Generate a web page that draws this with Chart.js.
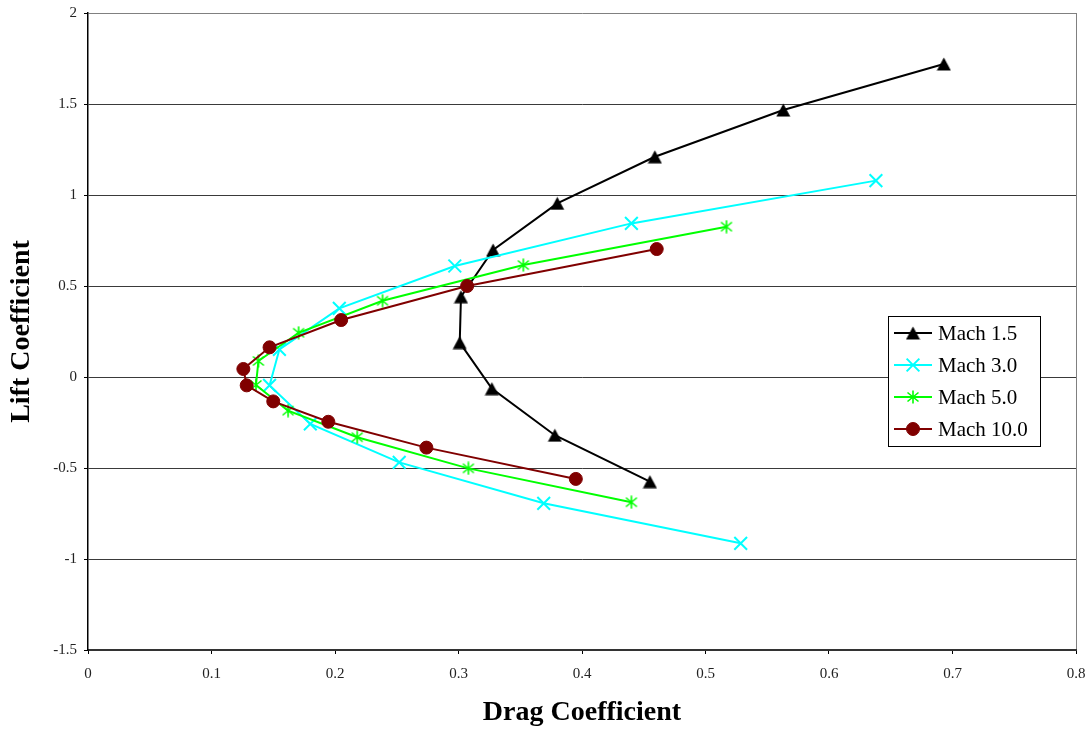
<!DOCTYPE html>
<html>
<head>
<meta charset="utf-8">
<title>Drag polar</title>
<script src="https://cdn.jsdelivr.net/npm/chart.js@4/dist/chart.umd.min.js"></script>
<style>
  html, body { margin: 0; padding: 0; background: #fff; }
  #wrap { width: 1092px; height: 733px; }
</style>
</head>
<body>
<div id="wrap"><canvas id="polar" width="1092" height="733"></canvas></div>
<script>
// drag polar, one curve per Mach number (CD on x, CL on y)
const seriesNames = ['Mach 1.5', 'Mach 3.0', 'Mach 5.0', 'Mach 10.0'];

const cdMach15 = [0.455, 0.378, 0.327, 0.301, 0.302, 0.328, 0.380, 0.459, 0.563, 0.693];
const clMach15 = [-0.575, -0.320, -0.064, 0.189, 0.441, 0.698, 0.954, 1.210, 1.467, 1.720];

const cdMach3 = [0.5285, 0.369, 0.252, 0.180, 0.147, 0.155, 0.2035, 0.297, 0.440, 0.638];
const clMach3 = [-0.914, -0.694, -0.469, -0.258, -0.046, 0.152, 0.377, 0.610, 0.844, 1.079];

const cdMach5 = [0.440, 0.308, 0.218, 0.162, 0.136, 0.138, 0.1705, 0.2385, 0.3525, 0.517];
const clMach5 = [-0.688, -0.502, -0.331, -0.185, -0.044, 0.088, 0.243, 0.419, 0.615, 0.826];

const cdMach10 = [0.395, 0.274, 0.1946, 0.150, 0.1285, 0.1258, 0.147, 0.205, 0.307, 0.4605];
const clMach10 = [-0.560, -0.388, -0.246, -0.134, -0.046, 0.044, 0.163, 0.313, 0.500, 0.703];

const xTicks = [0, 0.1, 0.2, 0.3, 0.4, 0.5, 0.6, 0.7, 0.8];
const yTicks = [-1.5, -1, -0.5, 0, 0.5, 1, 1.5, 2];

const serif = "'Liberation Serif', 'Times New Roman', serif";

function pairs(xs, ys) {
  return xs.map((x, i) => ({ x: x, y: ys[i] }));
}

// small marker bitmaps for the shapes Chart.js doesn't have
function triangleMarker(color) {
  const c = document.createElement('canvas');
  c.width = 15; c.height = 14;
  const g = c.getContext('2d');
  g.fillStyle = color;
  g.beginPath();
  g.moveTo(7.5, 0.5);
  g.lineTo(14.5, 13.5);
  g.lineTo(0.5, 13.5);
  g.closePath();
  g.fill();
  return c;
}

function asteriskMarker(color) {
  const c = document.createElement('canvas');
  c.width = 14; c.height = 14;
  const g = c.getContext('2d');
  g.strokeStyle = color;
  g.lineWidth = 1.6;
  g.beginPath();
  g.moveTo(7, 0.5); g.lineTo(7, 13.5);
  g.moveTo(1.5, 2.5); g.lineTo(12.5, 11.5);
  g.moveTo(12.5, 2.5); g.lineTo(1.5, 11.5);
  g.stroke();
  return c;
}

const colors = ['#000000', '#00ffff', '#00ff00', '#800000'];

const datasets = [
  {
    label: seriesNames[0],
    data: pairs(cdMach15, clMach15),
    borderColor: colors[0],
    backgroundColor: colors[0],
    pointStyle: triangleMarker(colors[0]),
    pointRadius: 7,
    order: 3,
  },
  {
    label: seriesNames[1],
    data: pairs(cdMach3, clMach3),
    borderColor: colors[1],
    backgroundColor: colors[1],
    pointStyle: 'crossRot',
    pointRadius: 9,
    pointBorderWidth: 2,
    order: 2,
  },
  {
    label: seriesNames[2],
    data: pairs(cdMach5, clMach5),
    borderColor: colors[2],
    backgroundColor: colors[2],
    pointStyle: asteriskMarker(colors[2]),
    pointRadius: 7,
    order: 1,
  },
  {
    label: seriesNames[3],
    data: pairs(cdMach10, clMach10),
    borderColor: colors[3],
    backgroundColor: colors[3],
    pointStyle: 'circle',
    pointRadius: 6.5,
    pointBorderWidth: 1,
    order: 0,
  },
];

datasets.forEach(d => {
  d.showLine = true;
  d.borderWidth = 2;
  d.tension = 0;
  d.fill = false;
  d.pointBorderColor = d.borderColor;
  d.pointBackgroundColor = d.backgroundColor;
});

// boxed legend sitting inside the plot, right side
const boxLegend = {
  id: 'boxLegend',
  afterDraw(chart) {
    const ctx = chart.ctx;
    const area = chart.chartArea;
    const bx = area.right - 188, by = 316, bw = 152, bh = 130;
    ctx.save();
    ctx.fillStyle = '#fff';
    ctx.fillRect(bx, by, bw, bh);
    ctx.strokeStyle = '#000';
    ctx.lineWidth = 1;
    ctx.strokeRect(bx + 0.5, by + 0.5, bw, bh);

    chart.data.datasets.forEach((ds, i) => {
      const rowY = by + 17 + i * 32;
      ctx.strokeStyle = ds.borderColor;
      ctx.fillStyle = ds.backgroundColor;
      ctx.lineWidth = ds.borderWidth;
      ctx.beginPath();
      ctx.moveTo(bx + 6, rowY);
      ctx.lineTo(bx + 44, rowY);
      ctx.stroke();
      ctx.lineWidth = ds.pointBorderWidth || 1;
      Chart.helpers.drawPoint(ctx, {
        pointStyle: ds.pointStyle,
        radius: ds.pointRadius,
        borderWidth: ds.pointBorderWidth || 1,
        rotation: 0,
      }, bx + 25, rowY);

      ctx.fillStyle = '#000';
      ctx.font = '21px ' + serif;
      ctx.textAlign = 'left';
      ctx.textBaseline = 'middle';
      ctx.fillText(ds.label, bx + 50, rowY + 1);
    });
    ctx.restore();
  },
};

new Chart(document.getElementById('polar'), {
  type: 'scatter',
  data: { datasets: datasets },
  plugins: [boxLegend],
  options: {
    responsive: false,
    animation: false,
    events: [],
    layout: { padding: { top: 13, right: 16, left: 0, bottom: 0 } },
    plugins: {
      legend: { display: false },
      tooltip: { enabled: false },
    },
    scales: {
      x: {
        type: 'linear',
        min: 0,
        max: 0.8,
        afterBuildTicks: s => { s.ticks = xTicks.map(v => ({ value: v })); },
        afterFit: s => {
          s.height = 83;
          s.paddingLeft = 0;
          s.paddingRight = 0;
        },
        ticks: {
          color: '#222',
          padding: 11,
          maxRotation: 0,
          autoSkip: false,
          font: { family: serif, size: 15 },
          callback: v => String(v),
        },
        grid: {
          drawOnChartArea: true,
          color: c => (c.tick && c.tick.value === 0.8 ? '#808080' : 'rgba(0,0,0,0)'),
          tickColor: '#000',
          tickLength: 4,
          lineWidth: 1,
        },
        border: { color: '#333', width: 2 },
        title: {
          display: true,
          text: 'Drag Coefficient',
          color: '#000',
          font: { family: serif, size: 28, weight: 'bold' },
          padding: { top: 0, bottom: 3 },
        },
      },
      y: {
        type: 'linear',
        min: -1.5,
        max: 2,
        afterBuildTicks: s => { s.ticks = yTicks.map(v => ({ value: v })); },
        afterFit: s => {
          s.width = 88;
          s.paddingTop = 0;
          s.paddingBottom = 0;
        },
        ticks: {
          color: '#222',
          padding: 7,
          font: { family: serif, size: 15 },
          callback: v => String(v),
        },
        grid: {
          color: c => (c.tick && c.tick.value === 2 ? '#808080' : '#3a3a3a'),
          tickColor: '#000',
          tickLength: 4,
          lineWidth: 1,
        },
        border: { color: '#000', width: 1.5 },
        title: {
          display: true,
          text: 'Lift Coefficient',
          color: '#000',
          font: { family: serif, size: 28, weight: 'bold' },
          padding: { top: 5, bottom: 0 },
        },
      },
    },
  },
});
</script>
</body>
</html>
